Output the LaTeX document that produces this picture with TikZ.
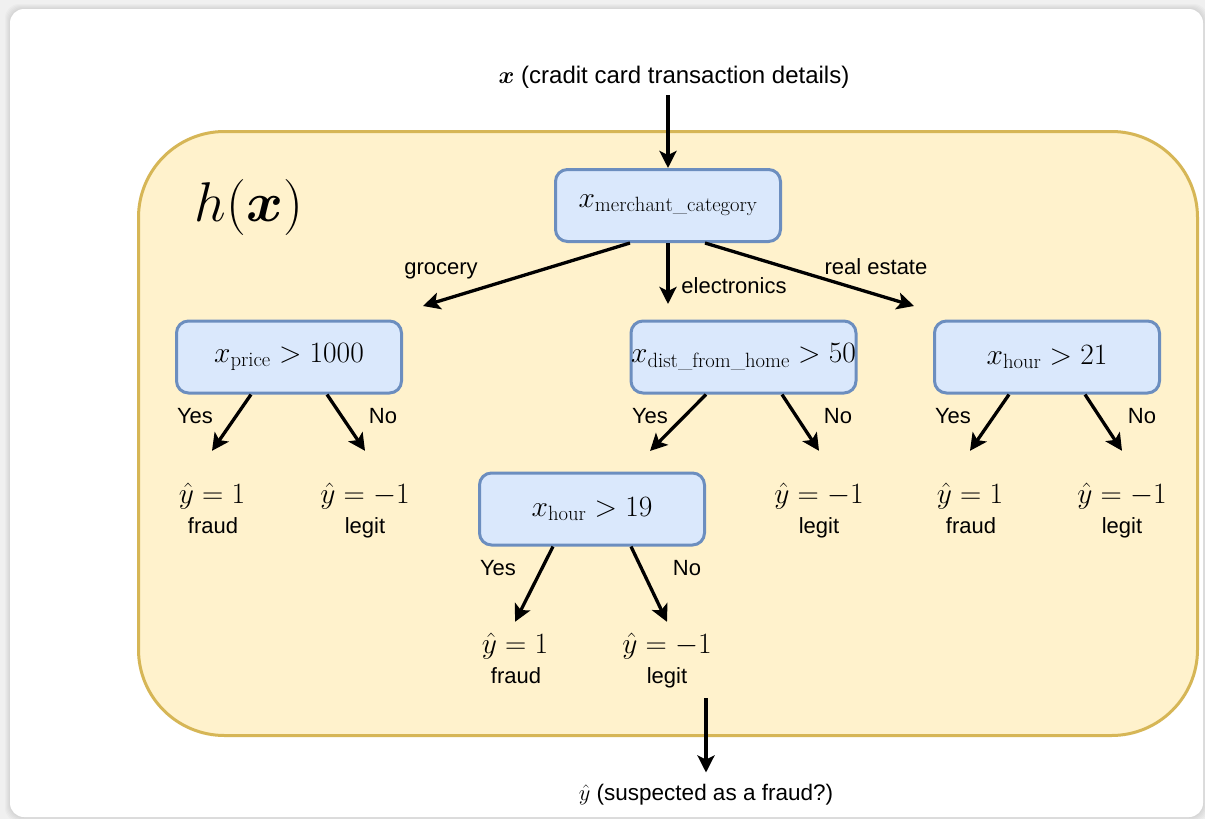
\RequirePackage{fix-cm}
\documentclass[tikz,border=0pt]{standalone}
\usepackage{amsmath}
\usepackage{bm}
\usepackage{fontspec}
\newfontfamily\labelfont{Liberation Sans}
\usetikzlibrary{arrows.meta}

\definecolor{ybg}{HTML}{FFF2CC}
\definecolor{ydraw}{HTML}{D6B656}
\definecolor{bbg}{HTML}{DAE8FC}
\definecolor{bdraw}{HTML}{6C8EBF}

\begin{document}
\begin{tikzpicture}[x=1pt,y=-1pt,
  txt/.style={font=\labelfont\fontsize{22}{26}\selectfont, inner sep=0pt},
  mth/.style={font=\fontsize{29.5}{34}\selectfont, inner sep=0pt},
  test/.style={draw=bdraw, fill=bbg, line width=3pt, rounded corners=12pt,
    minimum width=225pt, minimum height=72pt, inner sep=0pt,
    font=\fontsize{29.5}{34}\selectfont},
  arr/.style={line width=3.3pt, -{Stealth[length=17pt,width=17pt,inset=4pt]}}]

% page, card and its shadow
\fill[black!6] (0,0) rectangle (1205,819);
\useasboundingbox (0,0) rectangle (1205,819);
\foreach \i in {1,...,5}
  \fill[black, opacity=0.02, rounded corners=14pt]
    (10-\i,9-\i) rectangle (1203+\i,817+\i);
\fill[white, rounded corners=14pt] (10,9) rectangle (1203,817);

% the classifier h(x)
\draw[draw=ydraw, fill=ybg, line width=3pt, rounded corners=86pt]
  (138.5,131.5) rectangle (1197.5,735.5);
\node[anchor=base, font=\fontsize{56}{60}\selectfont, inner sep=0pt] (hx) at (249,221) {$h(\bm{x})$};

% decision nodes
\node[test] (root) at (668,205.5) {$x_{\mathrm{merchant\_category}}$};
\node[test] (price) at (289,357) {$x_{\mathrm{price}} > 1000$};
\node[test] (dist) at (743.5,357) {$x_{\mathrm{dist\_from\_home}} > 50$};
\node[test] (hr21) at (1047,357) {$x_{\mathrm{hour}} > 21$};
\node[test] (hr19) at (592,509) {$x_{\mathrm{hour}} > 19$};

% input and output
\node[txt, font=\labelfont\fontsize{24}{28}\selectfont, anchor=base] (in) at (674,83) {$\bm{x}$ (cradit card transaction details)};
\node[txt, font=\labelfont\fontsize{22.5}{27}\selectfont, anchor=base] (out) at (706,800) {$\hat{y}$ (suspected as a fraud?)};
\coordinate (hout) at (706,698);
\draw[arr] ([yshift=-7pt]in.south -| root.north) -- (root.north);
\draw[arr] (hout) -- ([yshift=11pt]out.north);

% branches of the root
\coordinate (gtip) at (423,306);
\coordinate (etip) at (668,304);
\coordinate (rtip) at (914,306);
\draw[arr] ([xshift=-38pt]root.south) -- (gtip);
\draw[arr] (root.south) -- (etip);
\draw[arr] ([xshift=37pt]root.south) -- (rtip);
\node[txt, anchor=base] (lg) at (441,274) {grocery};
\node[txt, anchor=base] (le) at (734,293.5) {electronics};
\node[txt, anchor=base] (lr) at (876,274) {real estate};

% leaves
\node[mth, anchor=base] (pv1) at (212,503) {$\hat{y} = 1$};
\node[txt, anchor=base] (pw1) at (213,533) {fraud};
\node[mth, anchor=base] (pv2) at (365,503) {$\hat{y} = -1$};
\node[txt, anchor=base] (pw2) at (365,533) {legit};
\node[mth, anchor=base] (dv2) at (819,503) {$\hat{y} = -1$};
\node[txt, anchor=base] (dw2) at (819,533) {legit};
\node[mth, anchor=base] (av1) at (970,503) {$\hat{y} = 1$};
\node[txt, anchor=base] (aw1) at (971,533) {fraud};
\node[mth, anchor=base] (av2) at (1122,503) {$\hat{y} = -1$};
\node[txt, anchor=base] (aw2) at (1122,533) {legit};
\node[mth, anchor=base] (bv1) at (515,653) {$\hat{y} = 1$};
\node[txt, anchor=base] (bw1) at (516,683) {fraud};
\node[mth, anchor=base] (bv2) at (667,653) {$\hat{y} = -1$};
\node[txt, anchor=base] (bw2) at (667,683) {legit};

% yes / no branches
\coordinate (dtip) at (650,451);
\draw[arr] ([xshift=-38pt]price.south) -- ([yshift=31.5pt]pv1.north);
\draw[arr] ([xshift=38pt]price.south) -- ([yshift=31.5pt]pv2.north);
\draw[arr] ([xshift=-37.5pt]dist.south) -- (dtip);
\draw[arr] ([xshift=38.5pt]dist.south) -- ([yshift=31.5pt]dv2.north);
\draw[arr] ([xshift=-38pt]hr21.south) -- ([yshift=31.5pt]av1.north);
\draw[arr] ([xshift=38pt]hr21.south) -- ([yshift=31.5pt]av2.north);
\draw[arr] ([xshift=-39pt]hr19.south) -- ([yshift=10.5pt]bv1.north);
\draw[arr] ([xshift=39pt]hr19.south) -- ([yshift=10.5pt]bv2.north);

\node[txt, anchor=base] (py) at (195,423) {Yes};
\node[txt, anchor=base] (pn) at (383,423) {No};
\node[txt, anchor=base] (dy) at (650,423) {Yes};
\node[txt, anchor=base] (dn) at (838,423) {No};
\node[txt, anchor=base] (ay) at (953,423) {Yes};
\node[txt, anchor=base] (an) at (1142,423) {No};
\node[txt, anchor=base] (by) at (498,575) {Yes};
\node[txt, anchor=base] (bn) at (687,575) {No};
\end{tikzpicture}
\end{document}
